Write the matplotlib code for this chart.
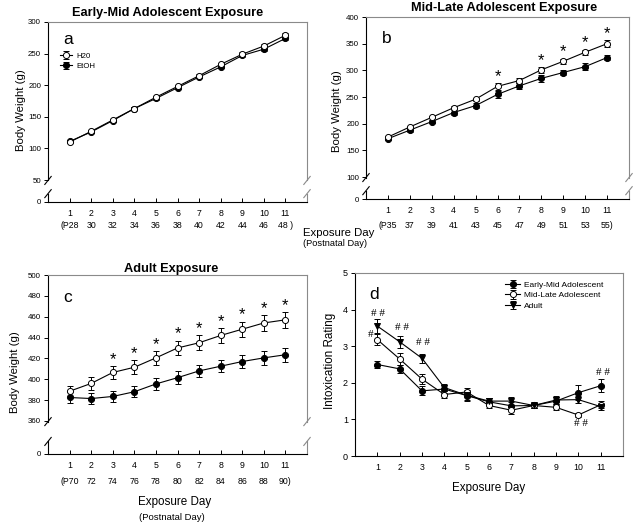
import numpy as np
import matplotlib
matplotlib.use('Agg')
import matplotlib.pyplot as plt

plt.rcParams['font.family'] = ['Liberation Sans', 'DejaVu Sans']

W, H = 643, 525
days = np.arange(1, 12)

# ---------------- data ----------------
# Panel a: Early-Mid adolescent exposure, body weight (g)
a_h2o = [110, 127, 145, 163, 181, 198, 215, 233, 249, 262, 279]
a_h2o_err = [2, 2, 2, 2, 2, 2, 2, 2, 3, 3, 3]
a_etoh = [111, 126, 144, 163, 179, 196, 213, 229, 247, 257, 274]
a_etoh_err = [2, 2, 2, 2, 2, 2, 2, 2, 3, 3, 3]
a_pnd = ['(P28', '30', '32', '34', '36', '38', '40', '42', '44', '46', '48 )']

# Panel b: Mid-Late adolescent exposure
b_h2o = [175, 194, 212, 230, 246, 270, 281, 301, 317, 334, 350]
b_h2o_err = [2, 2, 2, 3, 3, 6, 4, 5, 5, 5, 6]
b_etoh = [172, 188, 204, 221, 234, 255, 271, 285, 296, 307, 324]
b_etoh_err = [2, 3, 3, 4, 4, 6, 6, 6, 5, 6, 5]
b_sig = [6, 8, 9, 10, 11]
b_pnd = ['(P35', '37', '39', '41', '43', '45', '47', '49', '51', '53', '55)']

# Panel c: Adult exposure
c_h2o = [388.5, 396, 406.5, 411.5, 420.5, 430, 435, 442, 448, 454, 457]
c_h2o_err = [5.5, 6, 6, 6.5, 6.5, 7, 7, 7, 7, 7.5, 7.5]
c_etoh = [382.5, 381.5, 383.5, 388, 395.5, 401.5, 408, 412.5, 417, 420.5, 423.5]
c_etoh_err = [5.5, 5.5, 5.5, 5.5, 5.5, 6, 5.5, 6, 6, 6.5, 6.5]
c_sig = [3, 4, 5, 6, 7, 8, 9, 10, 11]
c_pnd = ['(P70', '72', '74', '76', '78', '80', '82', '84', '86', '88', '90)']

# Panel d: intoxication rating
d_early = [2.50, 2.38, 1.78, 1.83, 1.65, 1.48, 1.37, 1.38, 1.50, 1.73, 1.92]
d_early_err = [0.10, 0.10, 0.12, 0.10, 0.12, 0.10, 0.10, 0.08, 0.10, 0.20, 0.18]
d_mid = [3.18, 2.65, 2.10, 1.68, 1.75, 1.38, 1.25, 1.38, 1.33, 1.12, 1.40]
d_mid_err = [0.15, 0.16, 0.13, 0.10, 0.12, 0.08, 0.10, 0.08, 0.08, 0.05, 0.10]
d_adult = [3.55, 3.12, 2.67, 1.87, 1.66, 1.50, 1.50, 1.38, 1.53, 1.54, 1.35]
d_adult_err = [0.18, 0.16, 0.13, 0.10, 0.15, 0.08, 0.10, 0.08, 0.10, 0.10, 0.10]
d_hash_x = [1.05, 2.09, 3.05, 0.70, 11.1, 10.1]
d_hash_y = [3.88, 3.50, 3.09, 3.33, 2.27, 0.90]
d_hash_txt = ['# #', '# #', '# #', '#', '# #', '# #']

# ---------------- helpers ----------------
def px_axes(l, t, r, b):
    return [l / W, 1 - b / H, (r - l) / W, (b - t) / H]


def broken_scale(L, g):
    def fwd(v):
        v = np.asarray(v, float)
        return np.where(v >= L, v, L - g + v * g / L)

    def inv(y):
        y = np.asarray(y, float)
        return np.where(y >= L, y, (y - (L - g)) * L / g)
    return fwd, inv


GRAY = '#8a8a8a'


def style_axes(ax, ytick_size=5.7):
    ax.spines['top'].set_color(GRAY)
    ax.spines['right'].set_color(GRAY)
    for s in ax.spines.values():
        s.set_linewidth(0.8)
    ax.tick_params(axis='y', direction='out', length=3, width=0.7,
                   labelsize=ytick_size, pad=2)
    ax.tick_params(axis='x', direction='in', length=3, width=0.7,
                   labelsize=6.3, pad=5)
    ax.set_xlim(0, 12)
    ax.set_xticks(days)
    ax.set_xticklabels([str(d) for d in days])


def draw_breaks(ax, L, g, top):
    fL = g / (top - L + g)
    hi, lo = fL * 0.98, fL * 0.38
    ax.spines['left'].set_visible(False)
    ax.spines['right'].set_visible(False)
    bb = ax.get_position()
    dx = 3.2 / (bb.width * W)
    dy = 4.0 / (bb.height * H)
    for xs, col in ((0, 'black'), (1, GRAY)):
        kw = dict(transform=ax.transAxes, color=col, lw=0.8, clip_on=False)
        ax.plot([xs, xs], [0, lo], **kw)
        ax.plot([xs, xs], [hi, 1], **kw)
        for f in (hi, lo):
            ax.plot([xs - dx, xs + dx], [f - dy, f + dy], **kw)


def weight_panel(ax, h2o, h2o_err, etoh, etoh_err, L, g, top, step, pnd,
                 pnd_off, sig=None):
    ax.set_yscale('function', functions=broken_scale(L, g))
    ax.set_ylim(0, top)
    ticks = [0] + list(range(L, top + 1, step))
    ax.set_yticks(ticks)
    ax.set_yticklabels([str(t) for t in ticks])
    style_axes(ax)
    ekw = dict(color='black', lw=0.8, elinewidth=0.7, capsize=2.2,
               capthick=0.7, markersize=4.4, markeredgewidth=0.7, zorder=3)
    ax.errorbar(days, etoh, yerr=etoh_err, fmt='-o', markerfacecolor='black',
                markeredgecolor='black', label='EtOH', **ekw)
    ax.errorbar(days, h2o, yerr=h2o_err, fmt='-o', markerfacecolor='white',
                markeredgecolor='black', label='H20', **ekw)
    for d, lab in zip(days, pnd):
        ax.annotate(lab, xy=(d, 0), xycoords=('data', 'axes fraction'),
                    xytext=(0, -pnd_off), textcoords='offset points',
                    ha='center', va='center', fontsize=6.3)
    if sig:
        for d in sig:
            i = d - 1
            ax.annotate('*', xy=(d, h2o[i] + h2o_err[i]), xytext=(0, -0.5),
                        textcoords='offset points', ha='center', va='bottom',
                        fontsize=12)
    draw_breaks(ax, L, g, top)


fig = plt.figure(figsize=(W / 100, H / 100), dpi=100)

# ---- panel a ----
axa = fig.add_axes(px_axes(48, 22, 307, 202))
weight_panel(axa, a_h2o, a_h2o_err, a_etoh, a_etoh_err, 50, 34.8, 300, 50,
             a_pnd, 17)
axa.text(0.463, 1.015, 'Early-Mid Adolescent Exposure', transform=axa.transAxes,
         ha='center', va='bottom', fontsize=9.2, fontweight='bold')
axa.text(0.06, 0.90, 'a', transform=axa.transAxes, fontsize=12.5,
         ha='left', va='center')
h, l = axa.get_legend_handles_labels()
axa.legend(h[::-1], l[::-1], loc='upper left', bbox_to_anchor=(0.045, 0.83),
           frameon=False, fontsize=5.6, handlelength=1.6, handletextpad=0.5,
           borderpad=0, borderaxespad=0, labelspacing=0.35)

# ---- panel b ----
axb = fig.add_axes(px_axes(366, 17, 629, 199))
weight_panel(axb, b_h2o, b_h2o_err, b_etoh, b_etoh_err, 100, 41, 400, 50,
             b_pnd, 19, sig=b_sig)
axb.text(0.525, 1.015, 'Mid-Late Adolescent Exposure', transform=axb.transAxes,
         ha='center', va='bottom', fontsize=9.2, fontweight='bold')
axb.text(0.06, 0.88, 'b', transform=axb.transAxes, fontsize=12.5,
         ha='left', va='center')

# ---- panel c ----
axc = fig.add_axes(px_axes(48, 275, 307, 454))
weight_panel(axc, c_h2o, c_h2o_err, c_etoh, c_etoh_err, 360, 31.7, 500, 20,
             c_pnd, 19.5, sig=c_sig)
axc.text(0.475, 1.0, 'Adult Exposure', transform=axc.transAxes,
         ha='center', va='bottom', fontsize=9.2, fontweight='bold')
axc.text(0.06, 0.875, 'c', transform=axc.transAxes, fontsize=12.5,
         ha='left', va='center')

# ---- panel d ----
axd = fig.add_axes(px_axes(355, 273, 623, 456))
style_axes(axd, ytick_size=6.5)
axd.set_ylim(0, 5)
axd.set_yticks(range(0, 6))
ekw = dict(color='black', lw=0.8, elinewidth=0.7, capsize=2.2, capthick=0.7,
           markersize=4.4, markeredgewidth=0.7, zorder=3)
axd.errorbar(days, d_early, yerr=d_early_err, fmt='-o', markerfacecolor='black',
             markeredgecolor='black', label='Early-Mid Adolescent', **ekw)
axd.errorbar(days, d_mid, yerr=d_mid_err, fmt='-o', markerfacecolor='white',
             markeredgecolor='black', label='Mid-Late Adolescent', **ekw)
axd.errorbar(days, d_adult, yerr=d_adult_err, fmt='-v', markerfacecolor='black',
             markeredgecolor='black', label='Adult', **ekw)
for x, y, t in zip(d_hash_x, d_hash_y, d_hash_txt):
    axd.text(x, y, t, ha='center', va='center', fontsize=8,
             family=['Liberation Serif', 'DejaVu Serif'])
axd.text(0.055, 0.885, 'd', transform=axd.transAxes, fontsize=12.5,
         ha='left', va='center')
axd.legend(loc='upper left', bbox_to_anchor=(0.56, 0.955), frameon=False,
           fontsize=6, handlelength=1.8, handletextpad=0.5, borderpad=0,
           borderaxespad=0, labelspacing=0.3)

# ---- axis titles ----
def ftext(x, y, s, **kw):
    fig.text(x / W, 1 - y / H, s, **kw)

ftext(303, 233, 'Exposure Day', ha='left', va='center', fontsize=8.2)
ftext(303, 244, '(Postnatal Day)', ha='left', va='center', fontsize=6.7)
ftext(175, 502, 'Exposure Day', ha='center', va='center', fontsize=8.4)
ftext(172, 517, '(Postnatal Day)', ha='center', va='center', fontsize=6.8)
ftext(489, 488, 'Exposure Day', ha='center', va='center', fontsize=8.4)

ftext(21, 110, 'Body Weight (g)', rotation=90, ha='center', va='center', fontsize=8.2)
ftext(337, 111, 'Body Weight (g)', rotation=90, ha='center', va='center', fontsize=8.2)
ftext(15, 372, 'Body Weight (g)', rotation=90, ha='center', va='center', fontsize=8.2)
ftext(330, 361, 'Intoxication Rating', rotation=90, ha='center', va='center', fontsize=8.4)

fig.savefig('out.png', dpi=100)
